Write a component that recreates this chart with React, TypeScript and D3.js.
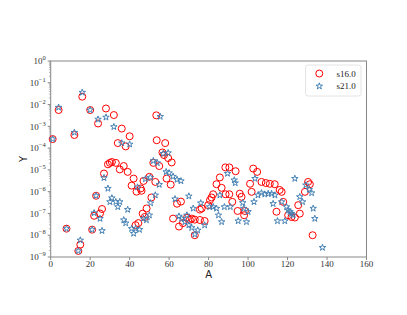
import React, { useRef, useEffect } from "react";
import * as d3 from "d3";

// s16.0 (red circles): [A, Y]
const s16: [number, number][] = [
  [1, 2.6e-4], [4, 5.6e-3], [8, 2.0e-8], [12, 4.0e-4], [14, 1.9e-9], [15, 3.7e-9],
  [16, 2.3e-2], [20, 5.6e-3], [21, 1.8e-8], [22, 7.8e-8], [23, 6.5e-7], [24, 1.35e-3],
  [25, 1.0e-7], [26, 1.6e-7], [27, 6.8e-6], [28, 6.6e-3], [29, 1.8e-5], [30, 2.1e-5],
  [31, 2.3e-5], [32, 3.3e-3], [33, 2.1e-5], [34, 1.7e-4], [35, 1.05e-5], [36, 7.9e-4],
  [37, 1.5e-5], [38, 1.2e-4], [39, 8.1e-6], [40, 3.5e-4], [41, 1.9e-6], [42, 4.0e-6],
  [43, 2.9e-8], [43.5, 1.0e-6], [44.4, 3.6e-8], [45.6, 1.4e-6], [46, 1.1e-6], [47, 3.1e-6],
  [46.6, 9.8e-8], [47.7, 6.9e-8], [48.6, 1.7e-7], [50, 4.8e-6], [51, 5.4e-7], [52, 2.1e-5],
  [53, 2.8e-6], [53.5, 3.2e-3], [55, 1.5e-5], [53.7, 2.3e-4], [58, 1.7e-4], [56.6, 6.3e-5],
  [57.4, 4.8e-5], [59.5, 3.5e-5], [61.3, 2.2e-5], [58.7, 4.0e-6], [60.8, 2.1e-6], [62, 5.8e-8],
  [64, 2.8e-7], [66, 3.5e-7], [65, 2.5e-8], [67, 3.6e-8], [69, 6.3e-8], [70.5, 5.2e-8],
  [71.5, 5.8e-8], [73, 5.2e-8], [73, 1.0e-8], [75.6, 5.0e-8], [75.6, 1.5e-7], [76.5, 1.7e-7],
  [78, 4.5e-8], [79.8, 2.4e-7], [80.7, 4.1e-7], [81.5, 5.4e-7], [82.3, 7.6e-7], [84, 2.2e-6],
  [85.7, 4.5e-6], [86.6, 1.5e-6], [88.5, 1.3e-5], [90.5, 1.3e-5], [88.6, 7.6e-7], [90.5, 7.6e-7],
  [92, 3.4e-7], [93.7, 8.7e-6], [94.7, 1.3e-7], [95.8, 8.1e-7], [96.7, 5.8e-7], [98, 8.3e-8],
  [98.4, 1.3e-7], [101, 2.3e-6], [101.8, 9.8e-7], [102.6, 1.15e-5], [104.6, 8.1e-6], [106.8, 2.8e-6],
  [109, 2.5e-6], [111, 2.3e-6], [113.5, 2.2e-6], [116, 1.2e-6], [117, 9.8e-7], [117.8, 3.4e-7],
  [114.4, 1.2e-7], [120.3, 8.3e-8], [122, 6.9e-8], [123.7, 6.5e-8], [126.2, 9.8e-8], [125.4, 2.4e-7],
  [128.8, 9.8e-7], [130.4, 2.8e-6], [131.3, 2.2e-6], [132.7, 1.0e-8],
];

// s21.0 (blue stars): [A, Y]
const s21: [number, number][] = [
  [1, 2.6e-4], [4, 7.4e-3], [8, 2.0e-8], [12, 5.2e-4], [14, 1.9e-9], [15, 5.9e-9],
  [16, 3.6e-2], [20, 5.6e-3], [21, 1.8e-8], [22, 1.05e-7], [23, 6.5e-7], [24, 2.1e-3],
  [25, 5.8e-8], [26, 1.6e-8], [27, 4.3e-6], [28, 2.6e-3], [29, 1.4e-6], [30, 3.4e-7],
  [31, 5.1e-7], [32, 9.5e-4], [33, 3.4e-7], [34, 2.0e-7], [35, 3.4e-7], [36, 1.7e-4],
  [37, 5.0e-8], [38, 3.6e-8], [39, 1.5e-7], [40, 1.5e-4], [41, 2.0e-8], [42, 1.2e-8],
  [43, 2.0e-8], [44, 1.6e-6], [45, 1.8e-8], [47, 5.8e-8], [48.5, 5.0e-8], [48, 3.8e-6],
  [50, 8.3e-8], [50.5, 4.5e-6], [50.6, 3.0e-7], [52, 2.6e-5], [53, 6.9e-7], [54, 2.1e-5],
  [55, 2.1e-6], [55.5, 2.8e-3], [57, 5.6e-5], [59.5, 6.0e-5], [58.5, 8.1e-6], [60, 7.2e-6],
  [62, 5.0e-6], [64, 3.6e-6], [66, 3.1e-6], [63, 4.6e-7], [65, 7.4e-8], [66.3, 5.8e-8],
  [68, 4.1e-8], [69, 8.3e-8], [70, 2.9e-8], [70, 6.2e-7], [71.4, 2.2e-8], [72.2, 1.7e-7],
  [73, 1.1e-8], [74.5, 1.7e-8], [76, 3.0e-7], [78, 2.9e-8], [80.5, 2.0e-7], [82.3, 2.0e-7],
  [84, 1.7e-7], [85, 8.3e-8], [85.7, 6.9e-7], [86.6, 4.1e-8], [88, 2.0e-7], [89.6, 6.8e-6],
  [91, 2.0e-7], [93, 3.4e-6], [93.5, 2.5e-6], [95, 4.5e-8], [97.3, 3.1e-7], [97.8, 1.7e-7],
  [99.2, 4.1e-8], [100, 1.2e-7], [103, 3.4e-7], [105, 6.9e-7], [103.5, 4.0e-6], [106.8, 8.7e-7],
  [108.5, 7.6e-7], [110.2, 8.1e-7], [111.9, 8.1e-7], [113.6, 6.9e-7], [112.7, 2.8e-7], [114.9, 4.5e-8],
  [117, 3.4e-7], [118.6, 4.5e-8], [119.5, 2.0e-7], [120.3, 1.4e-7], [121.2, 1.2e-7], [122, 9.8e-8],
  [122.8, 8.3e-8], [123.7, 4.0e-6], [126.2, 5.8e-7], [127.6, 3.4e-7], [129.3, 2.0e-6], [131, 1.26e-6],
  [132.2, 8.7e-7], [133, 1.7e-7], [133.8, 5.8e-8], [137.7, 2.7e-9],
];

const xTicks = [0, 20, 40, 60, 80, 100, 120, 140, 160];
const yExponents = [0, -1, -2, -3, -4, -5, -6, -7, -8, -9];
const seriesNames = ["s16.0", "s21.0"];

const W = 407;
const H = 315;

const App: React.FC = () => {
  const ref = useRef<SVGSVGElement>(null);

  useEffect(() => {
    if (!ref.current) return;
    const svg = d3.select(ref.current);
    svg.selectAll("*").remove();

    const margin = { top: 61, right: 40.5, bottom: 58, left: 50.7 };
    const x = d3.scaleLinear().domain([0, 160]).range([margin.left, W - margin.right]);
    const y = d3.scaleLog().domain([1e-9, 1]).range([H - margin.bottom, margin.top]);
    const serif = "'Liberation Serif', 'DejaVu Serif', serif";
    const axisColor = "#888";

    // frame
    svg
      .append("rect")
      .attr("x", x(0))
      .attr("y", y(1))
      .attr("width", x(160) - x(0))
      .attr("height", y(1e-9) - y(1))
      .attr("fill", "none")
      .attr("stroke", axisColor)
      .attr("stroke-width", 1);

    // x ticks
    const xg = svg.append("g");
    xTicks.forEach((t) => {
      xg.append("line")
        .attr("x1", x(t)).attr("x2", x(t))
        .attr("y1", y(1e-9)).attr("y2", y(1e-9) + 3)
        .attr("stroke", axisColor);
      xg.append("text")
        .attr("x", x(t))
        .attr("y", y(1e-9) + 10)
        .attr("text-anchor", "middle")
        .attr("font-family", serif)
        .attr("font-size", 9)
        .attr("fill", "#333")
        .text(t);
    });

    // y ticks (major + minor)
    const yg = svg.append("g");
    yExponents.forEach((e) => {
      const v = Math.pow(10, e);
      yg.append("line")
        .attr("x1", x(0) - 3).attr("x2", x(0))
        .attr("y1", y(v)).attr("y2", y(v))
        .attr("stroke", axisColor);
      if (e > -9) {
        for (let k = 2; k <= 9; k++) {
          const mv = k * Math.pow(10, e - 1);
          yg.append("line")
            .attr("x1", x(0) - 1.8).attr("x2", x(0))
            .attr("y1", y(mv)).attr("y2", y(mv))
            .attr("stroke", axisColor)
            .attr("stroke-width", 0.6);
        }
      }
      const txt = yg
        .append("text")
        .attr("x", x(0) - 5)
        .attr("y", y(v) + 3.2)
        .attr("text-anchor", "end")
        .attr("font-family", serif)
        .attr("font-size", 9)
        .attr("fill", "#333");
      txt.append("tspan").text("10");
      txt
        .append("tspan")
        .attr("dy", -4)
        .attr("font-size", 6.5)
        .text(e === 0 ? "0" : `\u2212${-e}`);
    });

    // axis labels
    svg
      .append("text")
      .attr("x", (x(0) + x(160)) / 2)
      .attr("y", 277.5)
      .attr("text-anchor", "middle")
      .attr("font-family", "'DejaVu Sans', sans-serif")
      .attr("font-size", 10)
      .attr("fill", "#222")
      .text("A");
    svg
      .append("text")
      .attr("transform", `translate(26.5, ${(y(1) + y(1e-9)) / 2}) rotate(-90)`)
      .attr("text-anchor", "middle")
      .attr("font-family", "'DejaVu Sans', sans-serif")
      .attr("font-size", 10)
      .attr("fill", "#222")
      .text("Y");

    const star = d3.symbol().type(d3.symbolStar).size(13);

    // s16.0 circles
    svg
      .append("g")
      .selectAll("circle")
      .data(s16)
      .enter()
      .append("circle")
      .attr("cx", (d) => x(d[0]))
      .attr("cy", (d) => y(d[1]))
      .attr("r", 3.5)
      .attr("fill", "none")
      .attr("stroke", "#ff0000")
      .attr("stroke-width", 1);

    // s21.0 stars
    svg
      .append("g")
      .selectAll("path")
      .data(s21)
      .enter()
      .append("path")
      .attr("d", star()!)
      .attr("transform", (d) => `translate(${x(d[0])},${y(d[1])})`)
      .attr("fill", "none")
      .attr("stroke", "#4682b4")
      .attr("stroke-width", 1);

    // legend
    const lg = svg.append("g").attr("transform", "translate(305.5,65)");
    lg.append("rect")
      .attr("width", 55.5)
      .attr("height", 31)
      .attr("rx", 2.5)
      .attr("fill", "white")
      .attr("stroke", "#ddd")
      .attr("stroke-width", 0.8);
    seriesNames.forEach((name, i) => {
      const cy = 8.5 + i * 12.7;
      if (i === 0) {
        lg.append("circle")
          .attr("cx", 13.8).attr("cy", cy).attr("r", 3.5)
          .attr("fill", "none").attr("stroke", "#ff0000");
      } else {
        lg.append("path")
          .attr("d", star()!)
          .attr("transform", `translate(13.8,${cy})`)
          .attr("fill", "none").attr("stroke", "#4682b4");
      }
      lg.append("text")
        .attr("x", 31)
        .attr("y", cy + 3.2)
        .attr("font-family", serif)
        .attr("font-size", 9)
        .attr("fill", "#222")
        .text(name);
    });
  }, []);

  return (
    <svg
      ref={ref}
      width={W}
      height={H}
      style={{ position: "absolute", left: 0, top: 0, background: "white" }}
    ></svg>
  );
};

export default App;
